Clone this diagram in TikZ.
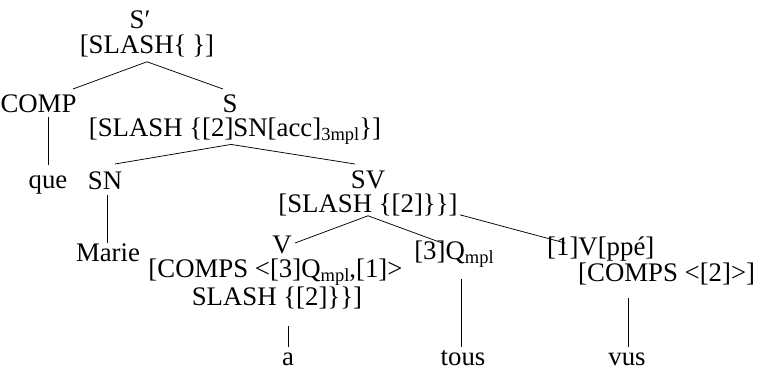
\documentclass[tikz,border=0pt]{standalone}
\usepackage{fontspec}
\setmainfont{Liberation Serif}
\usetikzlibrary{calc}
\newcommand\sbx[1]{\raisebox{-0.16em}{\fontsize{18.5}{18.5}\selectfont #1}}
\begin{document}
\begin{tikzpicture}[x=1pt,y=-1pt,
  lbl/.style={anchor=base,inner sep=0pt,align=center,font=\fontsize{26.8}{23.5}\selectfont},
  edge/.style={draw=black,line width=0.75pt}]
\useasboundingbox (0,0) rectangle (759,372);
% nodes (base = baseline of the last line)
\node[lbl,font=\fontsize{26.8}{25}\selectfont] (sp) at (147,53) {S′\hspace*{14pt}\\{}[SLASH\{\hspace{0.22em}\}]};
\node[lbl] (comp) at (38.5,112) {COMP};
\node[lbl,font=\fontsize{26.8}{24}\selectfont] (s) at (235,136) {S\hspace*{10pt}\\{}[SLASH \{[2]SN[acc]\sbx{3mpl}\}]};
\node[lbl] (que) at (48,188) {que};
\node[lbl] (sn) at (105,189) {SN};
\node[lbl] (sv) at (368,212) {SV\\{}[SLASH \{[2]\}\}]};
\node[lbl] (marie) at (108,261) {Marie};
\node[lbl] (v) at (275.5,305) {\hspace*{13pt}V\\{}[COMPS <[3]Q\sbx{mpl},[1]>\\\hspace*{3pt}SLASH \{[2]\}\}]};
\node[lbl] (q) at (454,259) {[3]Q\sbx{mpl}};
\node[lbl,anchor=base west,align=left] (vp) at (547,281) {[1]V[ppé]\\\hspace*{31pt}[COMPS <[2]>]};
\node[lbl] (a) at (288,365) {a};
\node[lbl] (tous) at (463,365) {tous};
\node[lbl] (vus) at (627,365) {vus};
% connectors
\draw[edge] ($(sp.south)+(0,5)$) -- ($(comp.base)+(34.5,-23)$);
\draw[edge] ($(sp.south)+(0,5)$) -- ($(s.base)+(-12,-47)$);
\draw[edge] ($(comp.base -| que.base)+(0,5)$) -- ($(que.base)+(0,-23)$);
\draw[edge] ($(s.south)+(-4,0)$) -- ($(sn.base)+(10,-25)$);
\draw[edge] ($(s.south)+(-4,0)$) -- ($(sv.base)+(-13,-48)$);
\draw[edge] ($(sn.base -| marie.base)+(-1,6)$) -- ($(marie.base)+(-1,-18)$);
\draw[edge] (sv.south) -- ($(v.base)+(19.5,-62)$);
\draw[edge] (sv.south) -- ($(q.base)+(-12,-16)$);
\draw[edge] ($(sv.south east)+(2,-1)$) -- ($(vp.base west)+(18,-38)$);
\draw[edge] ($(v.south -| a.base)+(0,17)$) -- ($(a.base)+(0,-18)$);
\draw[edge] ($(q.base)+(7,20)$) -- ($(tous.base)+(-2,-18)$);
\draw[edge] ($(vp.base west)+(81,17)$) -- ($(vus.base)+(1,-18)$);
\end{tikzpicture}
\end{document}
